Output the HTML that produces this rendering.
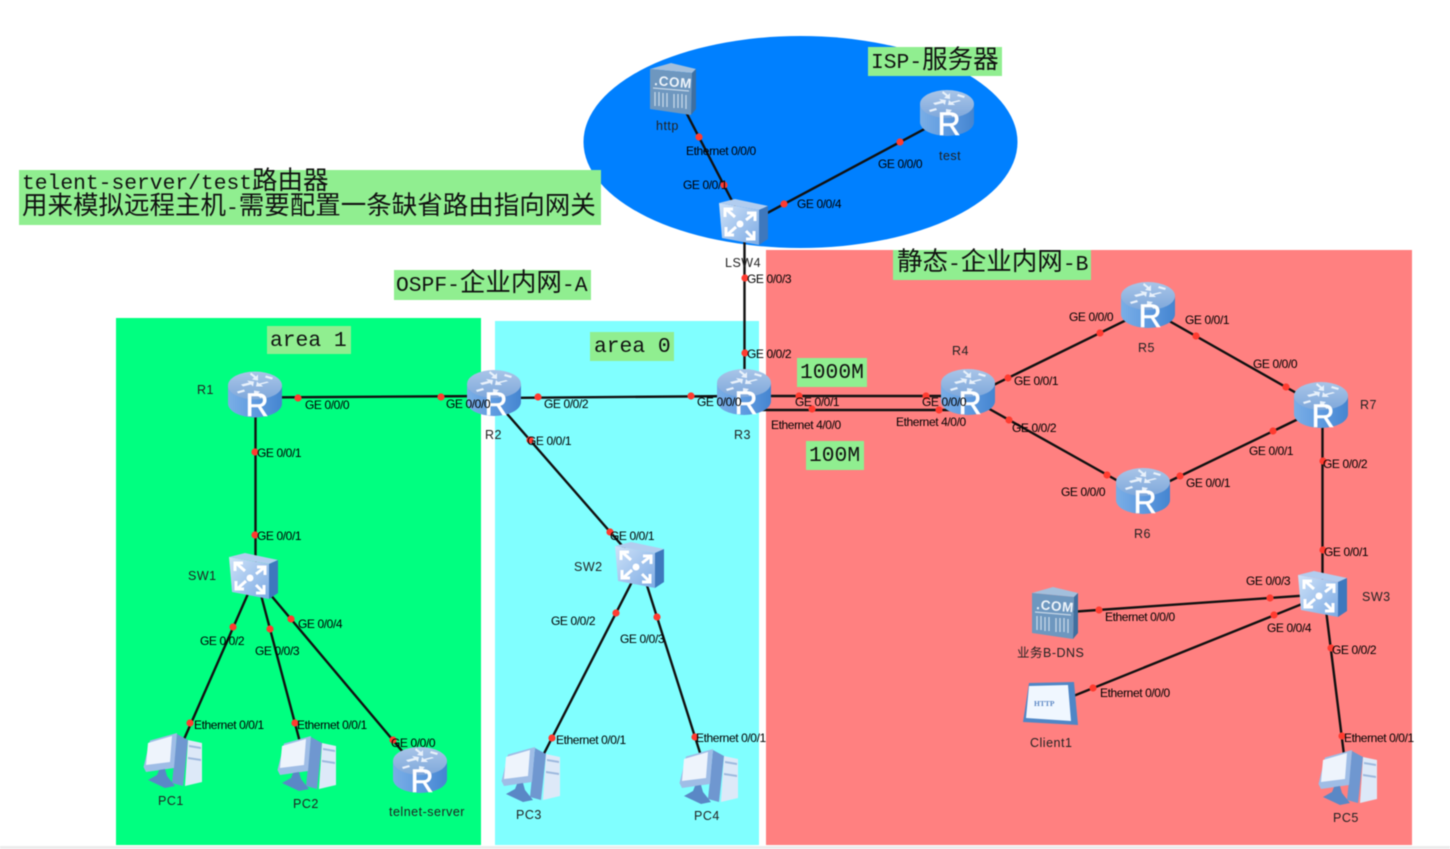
<!DOCTYPE html>
<html><head><meta charset="utf-8">
<style>
html,body{margin:0;padding:0;background:#fff;width:1450px;height:849px;overflow:hidden}
svg{display:block;filter:blur(.5px)}
.l{font:12px "Liberation Sans","Noto Sans CJK SC",sans-serif;letter-spacing:-.4px;fill:#000}
.n{font:12.5px "Liberation Sans","Noto Sans CJK SC",sans-serif;letter-spacing:.5px;fill:#222}
.a{font:21.3px "Liberation Mono","WenQuanYi Zen Hei","Noto Sans CJK SC",monospace;fill:#111}
.a tspan{font-size:25.5px;font-family:"WenQuanYi Zen Hei","Noto Sans CJK SC",sans-serif}
.r{font:32px "Liberation Sans",sans-serif;fill:#fff;text-anchor:middle;stroke:#fff;stroke-width:.6}
</style></head><body>
<svg width="1450" height="849" viewBox="0 0 1450 849" xmlns="http://www.w3.org/2000/svg">
<defs>
<linearGradient id="gb" x1="0" x2="1" y1="0" y2="0"><stop offset="0" stop-color="#7aaee6"/><stop offset=".5" stop-color="#5f9be0"/><stop offset="1" stop-color="#4585d0"/></linearGradient>
<linearGradient id="gt" x1="0" x2="0" y1="0" y2="1"><stop offset="0" stop-color="#a9c5e8"/><stop offset="1" stop-color="#7fa8db"/></linearGradient>
<linearGradient id="gs" x1="0" x2="1" y1="0" y2="1"><stop offset="0" stop-color="#cfe2f8"/><stop offset="1" stop-color="#7dabe4"/></linearGradient>
<g id="router">
<path d="M-27-9V9A27 14 0 0 0 27 9V-9Z" fill="url(#gb)"/>
<ellipse cx="0" cy="-9" rx="27" ry="14" fill="url(#gt)"/>
<path d="M-14-10l8-2-2-2 7 1-1 5-2-2-8 2zM14-12l-8 2 2 2-7 0 1-5 2 2 8-2zM-4-22l5 4 2-2 0 6-6-1 2-2-4-3zM6 4l-5-4-2 2 0-6 6 1-2 2 4 3z" fill="#e8f1fb"/>
<path d="M-18-3l7-2 1 2-7 2zM11-19l7 2-1 2-7-2z" fill="#e8f1fb"/>
</g>
<g id="switch">
<polygon points="-24,-19 -8,-23 25,-16 16,-12" fill="#b2cdef"/>
<polygon points="16,-12 25,-16 25,17 16,23" fill="#3e78bd"/>
<polygon points="-24,-19 16,-12 16,23 -21,16" fill="url(#gs)"/>
<g fill="none" stroke="#fff" stroke-width="3">
<path d="M-17-13l9 8M-18-5v-8h8M12-9l-9 7M12-1V-9H4M-16 13l9-8M-17 5v8h8M11 17l-8-8M11 9v8H3"/>
</g>
<circle cx="-3" cy="2" r="3.500" fill="#fff"/>
</g>
<g id="pc">
<polygon points="4,-28 15,-22 10,24 -1,21" fill="#6f97d0"/>
<polygon points="15,-22 29,-19 29,20 12,24" fill="#dde9f8"/>
<path d="M16-17l12 2v2l-12-2zM15-5l13 2v2l-13-2z" fill="#9db9de"/>
<polygon points="-29.500,5 -23,-21.500 4,-29 1,6 -27,10" fill="#9fbde6"/>
<polygon points="-25,-19 -1,-26 -3,0 -27,3" fill="#eef4fc"/>
<polygon points="-14,8 -8,7 -6,14 2,24 -8,26 -25,18 -16,13" fill="#5a88c6"/>
</g>
<g id="server">
<polygon points="-23,-20 -2,-26 23,-20 19,-16" fill="#a3bfdc"/>
<polygon points="19,-16 23,-20 23,20 18,26" fill="#3f6f9f"/>
<polygon points="-23,-20 19,-16 18,26 -23,20" fill="#6e97bf"/>
<g stroke="#c6d7e8" stroke-width="1.300" fill="none"><path d="M-20-1l36 3M-18 3v14M-14 3v14M-10 4v14M-6 4v14M1 5v14M5 5v14M9 5v14M13 6v14"/></g>
</g>
</defs>
<rect width="1450" height="849" fill="#fff"/>
<rect x="0" y="846" width="1450" height="3" fill="#ececec"/>
<rect x="116" y="318" width="365" height="527" fill="#00ff80"/>
<rect x="495" y="321" width="264" height="524" fill="#80ffff"/>
<rect x="766" y="250" width="646" height="595" fill="#ff8080"/>
<ellipse cx="800.500" cy="142" rx="217" ry="106" fill="#0080ff"/>

<g stroke="#111" stroke-width="2.400" fill="none">
<path d="M255 397.500L494 396M255.500 394V576M494 398L744 396M488 392L639 565M744.500 222V392M674.500 90L743 222M947 117L743 226"/>
<path d="M744 396H968M744 410H968M968 397.500L1148 309.500M968 397L1143 495M1148 309L1321 407M1143 494L1321 408M1322.500 405V594M1322 594.300L1055 613M1322 596L1051 705M1324 594L1347 779"/>
<path d="M255.800 576L174 762M256 576L306 765M254.700 576L418 770M640.600 565L532.500 776M640.500 565L708 778"/>
</g>

<use href="#router" x="255" y="394.500"/><text class="r" x="257" y="416">R</text>
<use href="#router" x="494" y="393"/><text class="r" x="496" y="415">R</text>
<use href="#router" x="744" y="392"/><text class="r" x="746" y="414">R</text>
<use href="#router" x="968" y="392"/><text class="r" x="970" y="414">R</text>
<use href="#router" x="1148" y="305"/><text class="r" x="1150" y="327">R</text>
<use href="#router" x="1143" y="491"/><text class="r" x="1145" y="513">R</text>
<use href="#router" x="1321" y="405"/><text class="r" x="1323" y="427">R</text>
<use href="#router" x="947" y="113"/><text class="r" x="949" y="135">R</text>
<use href="#router" x="420" y="770"/><text class="r" x="422" y="792">R</text>
<use href="#switch" x="253" y="576"/>
<use href="#switch" x="639" y="565"/>
<use href="#switch" x="743" y="222"/>
<use href="#switch" x="1322" y="594"/>
<use href="#pc" x="173" y="762"/>
<use href="#pc" x="307" y="765"/>
<use href="#pc" x="531" y="776"/>
<use href="#pc" x="709" y="778"/>
<use href="#pc" x="1348" y="779"/>
<use href="#server" x="673" y="89"/>
<text x="654" y="85" font-family="Liberation Sans" font-weight="bold" font-size="13.500" letter-spacing=".6" fill="#eef4fa" transform="rotate(5 654 85)">.COM</text>
<use href="#server" x="1055" y="613"/>
<text x="1036" y="609" font-family="Liberation Sans" font-weight="bold" font-size="13.500" letter-spacing=".6" fill="#eef4fa" transform="rotate(5 1036 609)">.COM</text>
<polygon points="1029,683 1074,682 1078,725 1023,722" fill="#4f86c6"/>
<polygon points="1029,686 1068,685 1071,721 1026,718" fill="#f0f7ff"/>
<text x="1034" y="706" font-family="Liberation Serif" font-weight="bold" font-size="7.500" fill="#5a86c4">HTTP</text>

<g fill="#ff3b30">
<circle cx="699" cy="137" r="3.600"/><circle cx="724" cy="185" r="3.600"/><circle cx="784" cy="204" r="3.600"/><circle cx="900" cy="142" r="3.600"/><circle cx="745" cy="278" r="3.600"/><circle cx="745" cy="353" r="3.600"/>
<circle cx="298" cy="398" r="3.600"/><circle cx="441" cy="397" r="3.600"/><circle cx="538" cy="397" r="3.600"/><circle cx="691" cy="396" r="3.600"/><circle cx="255" cy="452" r="3.600"/><circle cx="255" cy="535" r="3.600"/>
<circle cx="530" cy="440" r="3.600"/><circle cx="610" cy="532" r="3.600"/>
<circle cx="799" cy="396" r="3.600"/><circle cx="926" cy="396" r="3.600"/><circle cx="812" cy="409" r="3.600"/><circle cx="939" cy="410" r="3.600"/>
<circle cx="1008" cy="378" r="3.600"/><circle cx="1100" cy="333" r="3.600"/><circle cx="1009" cy="420" r="3.600"/><circle cx="1107" cy="475" r="3.600"/>
<circle cx="1196" cy="336" r="3.600"/><circle cx="1286" cy="387" r="3.600"/><circle cx="1180" cy="476" r="3.600"/><circle cx="1273" cy="431" r="3.600"/>
<circle cx="1323" cy="461" r="3.600"/><circle cx="1323" cy="550" r="3.600"/><circle cx="1270" cy="598" r="3.600"/><circle cx="1099" cy="610" r="3.600"/><circle cx="1274" cy="615" r="3.600"/><circle cx="1093" cy="688" r="3.600"/><circle cx="1331" cy="648" r="3.600"/><circle cx="1342" cy="736" r="3.600"/>
<circle cx="233" cy="627" r="3.600"/><circle cx="190" cy="723" r="3.600"/><circle cx="270" cy="629" r="3.600"/><circle cx="295" cy="723" r="3.600"/><circle cx="291" cy="619" r="3.600"/><circle cx="393" cy="740" r="3.600"/>
<circle cx="616" cy="613" r="3.600"/><circle cx="552" cy="738" r="3.600"/><circle cx="657" cy="617" r="3.600"/><circle cx="695" cy="737" r="3.600"/>
</g>

<g>
<text class="l" x="686" y="155">Ethernet 0/0/0</text><text class="l" x="683" y="189">GE 0/0/1</text><text class="l" x="797" y="208">GE 0/0/4</text><text class="l" x="878" y="168">GE 0/0/0</text><text class="l" x="747" y="283">GE 0/0/3</text><text class="l" x="747" y="358">GE 0/0/2</text>
<text class="l" x="305" y="409">GE 0/0/0</text><text class="l" x="446" y="408">GE 0/0/0</text><text class="l" x="544" y="408">GE 0/0/2</text><text class="l" x="697" y="406">GE 0/0/0</text><text class="l" x="795" y="406">GE 0/0/1</text><text class="l" x="922" y="406">GE 0/0/0</text>
<text class="l" x="771" y="429">Ethernet 4/0/0</text><text class="l" x="896" y="426">Ethernet 4/0/0</text>
<text class="l" x="1014" y="385">GE 0/0/1</text><text class="l" x="1012" y="432">GE 0/0/2</text><text class="l" x="1069" y="321">GE 0/0/0</text><text class="l" x="1185" y="324">GE 0/0/1</text><text class="l" x="1253" y="368">GE 0/0/0</text><text class="l" x="1249" y="455">GE 0/0/1</text><text class="l" x="1186" y="487">GE 0/0/1</text><text class="l" x="1061" y="496">GE 0/0/0</text>
<text class="l" x="1323" y="468">GE 0/0/2</text><text class="l" x="1324" y="556">GE 0/0/1</text><text class="l" x="1246" y="585">GE 0/0/3</text><text class="l" x="1267" y="632">GE 0/0/4</text><text class="l" x="1332" y="654">GE 0/0/2</text>
<text class="l" x="1105" y="621">Ethernet 0/0/0</text><text class="l" x="1100" y="697">Ethernet 0/0/0</text><text class="l" x="1344" y="742">Ethernet 0/0/1</text>
<text class="l" x="257" y="457">GE 0/0/1</text><text class="l" x="257" y="540">GE 0/0/1</text><text class="l" x="298" y="628">GE 0/0/4</text><text class="l" x="200" y="645">GE 0/0/2</text><text class="l" x="255" y="655">GE 0/0/3</text>
<text class="l" x="194" y="729">Ethernet 0/0/1</text><text class="l" x="297" y="729">Ethernet 0/0/1</text><text class="l" x="391" y="747">GE 0/0/0</text>
<text class="l" x="527" y="445">GE 0/0/1</text><text class="l" x="610" y="540">GE 0/0/1</text><text class="l" x="551" y="625">GE 0/0/2</text><text class="l" x="620" y="643">GE 0/0/3</text><text class="l" x="556" y="744">Ethernet 0/0/1</text><text class="l" x="696" y="742">Ethernet 0/0/1</text>
</g>
<text class="n" x="656" y="130">http</text><text class="n" x="939" y="160">test</text><text class="n" x="725" y="267">LSW4</text>
<text class="n" x="197" y="394">R1</text><text class="n" x="485" y="439">R2</text><text class="n" x="734" y="439">R3</text><text class="n" x="952" y="355">R4</text><text class="n" x="1138" y="352">R5</text><text class="n" x="1134" y="538">R6</text><text class="n" x="1360" y="409">R7</text>
<text class="n" x="188" y="580">SW1</text><text class="n" x="574" y="571">SW2</text><text class="n" x="1362" y="601">SW3</text>
<text class="n" x="158" y="805">PC1</text><text class="n" x="293" y="808">PC2</text><text class="n" x="516" y="819">PC3</text><text class="n" x="694" y="820">PC4</text><text class="n" x="1333" y="822">PC5</text>
<text class="n" x="389" y="816">telnet-server</text><text class="n" x="1017" y="657">业务B-DNS</text><text class="n" x="1030" y="747">Client1</text>

<g fill="#90ee90">
<rect x="868" y="47" width="134" height="29"/>
<rect x="19" y="170" width="582" height="55"/>
<rect x="394" y="270" width="197" height="30"/>
<rect x="893" y="250" width="198" height="30"/>
<rect x="267" y="326" width="84" height="28"/>
<rect x="590" y="332" width="84" height="29"/>
<rect x="797" y="358" width="70" height="29"/>
<rect x="806" y="441" width="58" height="29"/>
</g>
<text class="a" x="871" y="68">ISP-<tspan>服务器</tspan></text>
<text class="a" x="22" y="189">telent-server/test<tspan>路由器</tspan></text>
<text class="a" x="22" y="214"><tspan>用来模拟远程主机</tspan>-<tspan>需要配置一条缺省路由指向网关</tspan></text>
<text class="a" x="396" y="291">OSPF-<tspan>企业内网</tspan>-A</text>
<text class="a" x="897" y="270"><tspan>静态</tspan>-<tspan>企业内网</tspan>-B</text>
<text class="a" x="270" y="346">area 1</text>
<text class="a" x="594" y="352">area 0</text>
<text class="a" x="800" y="378">1000M</text>
<text class="a" x="809" y="461">100M</text>
</svg>
</body></html>
